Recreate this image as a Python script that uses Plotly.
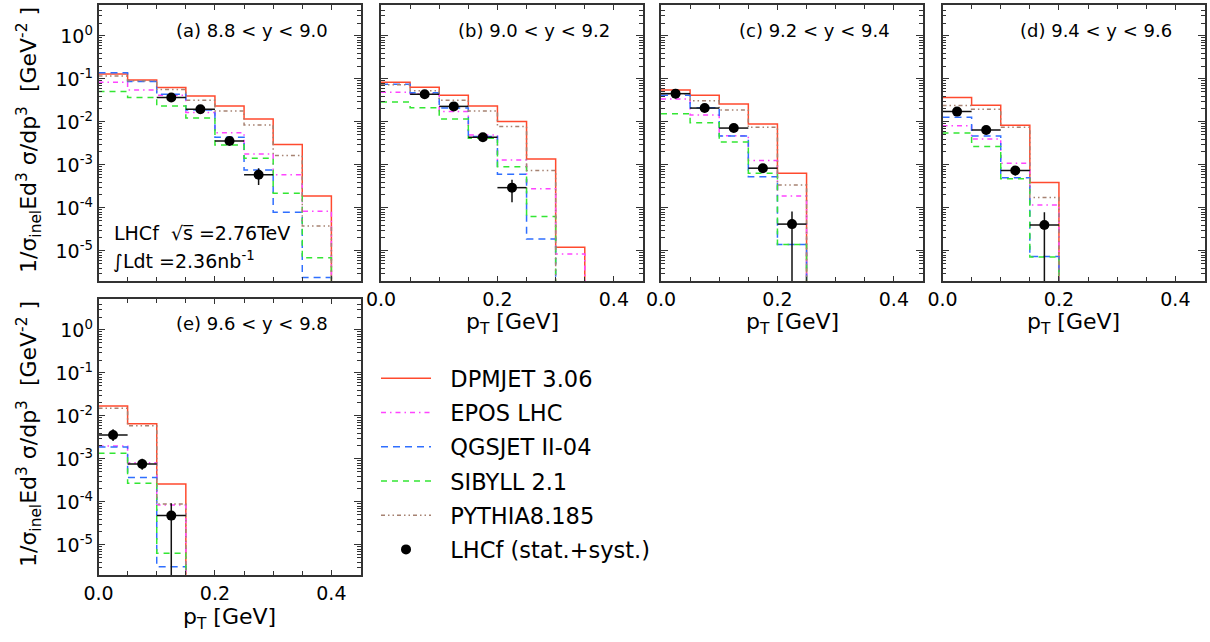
import plotly.graph_objects as go

W, H = 1210, 642
BIN_WIDTH = 0.05

PANEL_TAGS = ["(a) 8.8 < y < 9.0", "(b) 9.0 < y < 9.2", "(c) 9.2 < y < 9.4",
              "(d) 9.4 < y < 9.6", "(e) 9.6 < y < 9.8"]
MODELS = ["DPMJET 3.06", "EPOS LHC", "QGSJET II-04", "SIBYLL 2.1", "PYTHIA8.185"]
DATA_NAME = "LHCf (stat.+syst.)"

# model predictions per pT bin (bins of 0.05 GeV starting at 0)
DPMJET_A = [0.13, 0.095, 0.063, 0.040, 0.0235, 0.0117, 0.0030, 1.9e-4]
EPOS_A = [0.084, 0.055, 0.042, 0.0165, 0.0056, 0.0018, 5.9e-4, 8.4e-5]
QGSJET_A = [0.14, 0.087, 0.044, 0.019, 0.0044, 7.6e-4, 7.9e-5, 2.4e-6]
SIBYLL_A = [0.051, 0.037, 0.0235, 0.0124, 0.0029, 0.00143, 2.2e-4, 6.9e-6]
PYTHIA_A = [0.117, 0.091, 0.057, 0.032, 0.018, 0.0085, 0.00165, 3.8e-5]

DPMJET_B = [0.084, 0.064, 0.042, 0.0235, 0.0102, 0.00138, 1.22e-5]
EPOS_B = [0.049, 0.045, 0.0174, 0.0050, 0.0013, 2.8e-4, 8.5e-6]
QGSJET_B = [0.075, 0.048, 0.021, 0.0046, 6.1e-4, 1.9e-5]
SIBYLL_B = [0.029, 0.0215, 0.0117, 0.0042, 9.1e-4, 6.3e-5]
PYTHIA_B = [0.073, 0.053, 0.032, 0.018, 0.0078, 7.4e-4]

DPMJET_C = [0.055, 0.042, 0.026, 0.0089, 6.4e-4]
EPOS_C = [0.034, 0.0145, 0.0048, 0.00126, 1.9e-4]
QGSJET_C = [0.042, 0.0215, 0.0047, 5.3e-4, 1.4e-5]
SIBYLL_C = [0.0154, 0.0096, 0.0034, 6.4e-4, 1.4e-5]
PYTHIA_C = [0.045, 0.031, 0.019, 0.0075, 3.4e-4]

DPMJET_D = [0.037, 0.0245, 0.0084, 3.9e-4]
EPOS_D = [0.0081, 0.0040, 0.0011, 1.17e-4]
QGSJET_D = [0.0129, 0.0047, 5.0e-4, 7.4e-6]
SIBYLL_D = [0.0055, 0.0027, 4.8e-4, 7.2e-6]
PYTHIA_D = [0.024, 0.0198, 0.0075, 1.74e-4]

DPMJET_E = [0.017, 0.0066, 2.6e-4]
EPOS_E = [0.0020, 8.2e-4, 8.5e-5]
QGSJET_E = [0.0019, 3.7e-4, 3.1e-6]
SIBYLL_E = [0.00135, 2.7e-4, 6.4e-6]
PYTHIA_E = [0.015, 0.0059, 8.9e-5]

# LHCf data
DATA_PT_A = [0.125, 0.175, 0.225, 0.275]
DATA_Y_A = [0.037, 0.0198, 0.0036, 5.9e-4]
DATA_UP_A = [0.0045, 0.0025, 0.0006, 2.5e-4]
DATA_DN_A = [0.0045, 0.0025, 0.0006, 2.5e-4]

DATA_PT_B = [0.075, 0.125, 0.175, 0.225]
DATA_Y_B = [0.044, 0.023, 0.0044, 2.96e-4]
DATA_UP_B = [0.005, 0.003, 0.0005, 1.55e-4]
DATA_DN_B = [0.005, 0.003, 0.0005, 1.6e-4]

DATA_PT_C = [0.025, 0.075, 0.125, 0.175, 0.225]
DATA_Y_C = [0.0455, 0.021, 0.0072, 8.4e-4, 4.2e-5]
DATA_UP_C = [0.013, 0.003, 0.0008, 1.5e-4, 4.0e-5]
DATA_DN_C = [0.010, 0.003, 0.0008, 1.8e-4, 4.2e-5]

DATA_PT_D = [0.025, 0.075, 0.125, 0.175]
DATA_Y_D = [0.0174, 0.0065, 7.4e-4, 4.0e-5]
DATA_UP_D = [0.0025, 0.001, 1.5e-4, 3.9e-5]
DATA_DN_D = [0.0025, 0.001, 1.7e-4, 4.0e-5]

DATA_PT_E = [0.025, 0.075, 0.125]
DATA_Y_E = [0.0036, 7.6e-4, 4.8e-5]
DATA_UP_E = [0.0013, 2.5e-4, 4.5e-5]
DATA_DN_E = [0.0010, 2.0e-4, 4.8e-5]

X_TICKS = [0.0, 0.2, 0.4]
Y_DECADES = [-5, -4, -3, -2, -1, 0]

# ---------------------------------------------------------------- styling
COLORS = ["#ff4a2e", "#ff44ff", "#2f6fff", "#33e633", "#a68272"]
DASHES = ["solid", "5px,4px,1.5px,4px", "7px,5px", "6px,5px", "4px,3px,1.5px,3px,1.5px,3px"]
FONT = "DejaVu Sans"
NBSP = "\u00a0"

# panel geometry in pixels: (left, right, top, bottom)
PANELS_PX = [
    (98.5, 360.5, 5, 281),
    (381, 643, 5, 281),
    (661, 923, 5, 281),
    (942.5, 1204.5, 5, 281),
    (98.5, 360.5, 299, 575),
]
YLOG_RANGE = [-5.70, 0.72]
X_RANGE = [0, 0.45]

model_sets = [
    [DPMJET_A, EPOS_A, QGSJET_A, SIBYLL_A, PYTHIA_A],
    [DPMJET_B, EPOS_B, QGSJET_B, SIBYLL_B, PYTHIA_B],
    [DPMJET_C, EPOS_C, QGSJET_C, SIBYLL_C, PYTHIA_C],
    [DPMJET_D, EPOS_D, QGSJET_D, SIBYLL_D, PYTHIA_D],
    [DPMJET_E, EPOS_E, QGSJET_E, SIBYLL_E, PYTHIA_E],
]
data_sets = [
    (DATA_PT_A, DATA_Y_A, DATA_UP_A, DATA_DN_A),
    (DATA_PT_B, DATA_Y_B, DATA_UP_B, DATA_DN_B),
    (DATA_PT_C, DATA_Y_C, DATA_UP_C, DATA_DN_C),
    (DATA_PT_D, DATA_Y_D, DATA_UP_D, DATA_DN_D),
    (DATA_PT_E, DATA_Y_E, DATA_UP_E, DATA_DN_E),
]

fig = go.Figure()
layout = {}
annotations = []

minor_y = [k * 10.0 ** n for n in range(-6, 1) for k in range(2, 10)]
major_y = [10.0 ** d for d in Y_DECADES]
major_y_text = ["10<sup>%d</sup>" % d for d in Y_DECADES]

for i, (l, r, t, b) in enumerate(PANELS_PX):
    idx = "" if i == 0 else str(i + 1)
    xa, ya = "x" + idx, "y" + idx
    show_xlab = i != 0
    show_ylab = i in (0, 4)
    layout["xaxis" + idx] = dict(
        domain=[l / W, r / W], anchor=ya, range=X_RANGE, automargin=False,
        tickmode="array", tickvals=X_TICKS,
        ticktext=["%.1f" % v for v in X_TICKS],
        showticklabels=show_xlab,
        ticks="inside", ticklen=5, tickwidth=1, tickcolor="#333",
        minor=dict(dtick=BIN_WIDTH, tick0=0, ticks="inside", ticklen=4, tickwidth=1, tickcolor="#333", showgrid=False),
        showline=True, linecolor="#333", linewidth=1.5, mirror="allticks",
        showgrid=False, zeroline=False,
        tickfont=dict(size=19, family=FONT, color="black"),
    )
    layout["yaxis" + idx] = dict(
        domain=[1 - b / H, 1 - t / H], anchor=xa, type="log", range=YLOG_RANGE, automargin=False,
        tickmode="array", tickvals=major_y, ticktext=major_y_text,
        showticklabels=show_ylab,
        ticks="inside", ticklen=7, tickwidth=1, tickcolor="#333",
        minor=dict(tickmode="array", tickvals=minor_y, ticks="inside", ticklen=4, tickwidth=1, tickcolor="#333", showgrid=False),
        showline=True, linecolor="#333", linewidth=1.5, mirror="allticks",
        showgrid=False, zeroline=False,
        tickfont=dict(size=19, family=FONT, color="black"),
    )

    for m, vals in enumerate(model_sets[i]):
        edges = [k * BIN_WIDTH for k in range(len(vals) + 1)]
        fig.add_trace(go.Scatter(
            x=edges, y=list(vals) + [1e-12], mode="lines", line_shape="hv",
            line=dict(color=COLORS[m], width=1.5, dash=DASHES[m]),
            name=NBSP * 2 + MODELS[m], legendgroup=MODELS[m], showlegend=(i == 0),
            xaxis=xa, yaxis=ya, hoverinfo="skip",
        ))

    pt, yv, up, dn = data_sets[i]
    dn_eff = [min(d, y * 0.999999) for d, y in zip(dn, yv)]
    fig.add_trace(go.Scatter(
        x=pt, y=yv, mode="markers",
        marker=dict(color="black", size=10),
        error_x=dict(type="constant", value=BIN_WIDTH / 2, color="#111", thickness=1.5, width=0),
        error_y=dict(type="data", array=up, arrayminus=dn_eff, color="#111", thickness=1.5, width=0),
        name=NBSP * 2 + DATA_NAME, legendgroup=DATA_NAME, showlegend=(i == 0),
        xaxis=xa, yaxis=ya, hoverinfo="skip",
    ))

    # panel tag
    annotations.append(dict(
        text=PANEL_TAGS[i], xref="paper", yref="paper",
        x=(r - 31) / W, y=1 - (t + 25) / H, xanchor="right", yanchor="middle",
        showarrow=False, font=dict(size=18, family=FONT, color="black"),
    ))
    if show_xlab:
        annotations.append(dict(
            text="p<sub>T</sub> [GeV]", xref="paper", yref="paper",
            x=(l + r) / 2 / W, y=1 - (b + 43) / H, xanchor="center", yanchor="middle",
            showarrow=False, font=dict(size=22, family=FONT, color="black"),
        ))
    if show_ylab:
        annotations.append(dict(
            text="1/σ<sub>inel</sub>Ed<sup>3</sup> σ/dp<sup>3</sup>  [GeV<sup>-2</sup> ]",
            xref="paper", yref="paper", textangle=-90,
            x=29 / W, y=1 - ((t + b) / 2 - 3) / H, xanchor="center", yanchor="middle",
            showarrow=False, font=dict(size=22, family=FONT, color="black"),
        ))

annotations.append(dict(
    text="LHCf  √s\u0305 =2.76TeV",
    xref="paper", yref="paper", x=112 / W, y=1 - 233 / H, xanchor="left", yanchor="middle",
    showarrow=False, font=dict(size=19, family=FONT, color="black"),
))
annotations.append(dict(
    text="∫Ldt =2.36nb<sup>-1</sup>",
    xref="paper", yref="paper", x=111 / W, y=1 - 260 / H, xanchor="left", yanchor="middle",
    showarrow=False, font=dict(size=19, family=FONT, color="black"),
))

fig.update_layout(
    width=W, height=H, margin=dict(l=0, r=0, t=0, b=0, autoexpand=False),
    paper_bgcolor="white", plot_bgcolor="white",
    font=dict(family=FONT, color="black"),
    annotations=annotations,
    legend=dict(x=376 / W, y=1 - 357 / H, xanchor="left", yanchor="top",
                font=dict(size=22.5, family=FONT, color="black"),
                itemwidth=50, tracegroupgap=2, bgcolor="rgba(0,0,0,0)"),
    **layout,
)

fig.write_html("out.html")
